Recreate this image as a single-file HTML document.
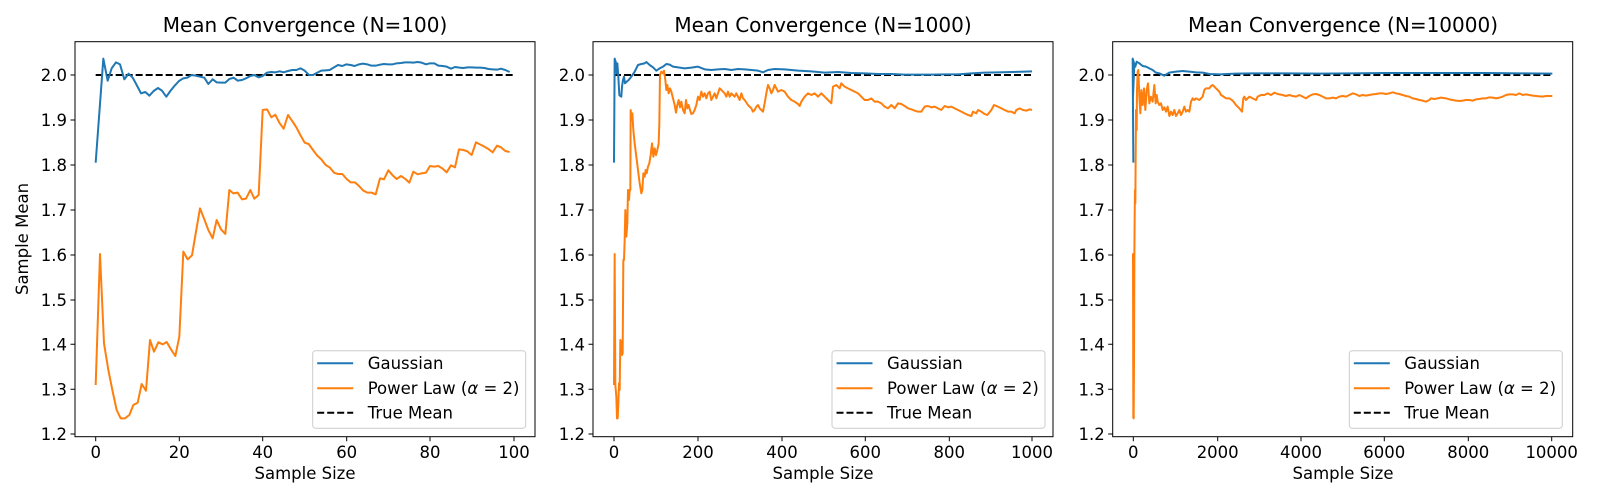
<!DOCTYPE html>
<html><head><meta charset="utf-8"><style>
html,body{margin:0;padding:0;background:#fff}
svg{display:block;font-family:"DejaVu Sans","Liberation Sans",sans-serif}
.l{fill:none;stroke-width:2;vector-effect:non-scaling-stroke;stroke-linejoin:round}
.b{stroke:#1f77b4}.o{stroke:#ff7f0e}
.d{stroke:#000;stroke-dasharray:7,3}
.fr{fill:none;stroke:#000;stroke-width:1}
.tk{stroke:#000;stroke-width:1}
text{font-size:16.5px;fill:#000}
.t{font-size:20px}
</style></head><body>
<svg width="1600" height="500" viewBox="0 0 1600 500">
<defs>
<g id="yt">
<path class="tk" d="M0,75h-4.5M0,120h-4.5M0,165h-4.5M0,210h-4.5M0,255h-4.5M0,300h-4.5M0,344.3h-4.5M0,389.3h-4.5M0,434h-4.5"/>
<g text-anchor="end">
<text x="-8" y="81">2.0</text><text x="-8" y="126">1.9</text><text x="-8" y="171">1.8</text><text x="-8" y="216">1.7</text><text x="-8" y="261">1.6</text><text x="-8" y="306">1.5</text><text x="-8" y="350.3">1.4</text><text x="-8" y="395.3">1.3</text><text x="-8" y="440">1.2</text>
</g></g>
<g id="lg">
<rect x="0" y="0" width="213" height="77.6" rx="3" fill="#fff" fill-opacity="0.8" stroke="#ccc"/>
<path d="M4.5,12.6h36" stroke="#1f77b4" stroke-width="2"/>
<path d="M4.5,37.6h36" stroke="#ff7f0e" stroke-width="2"/>
<path d="M4.5,62h36" stroke="#000" stroke-width="2" stroke-dasharray="7,3"/>
<text x="55" y="18.5">Gaussian</text>
<text x="55" y="43.5">Power Law (<tspan font-style="italic">α</tspan> = 2)</text>
<text x="55" y="68">True Mean</text>
</g>
</defs>

<!-- Panel 1 -->
<text class="t" x="305" y="32" text-anchor="middle">Mean Convergence (N=100)</text>
<g transform="translate(70,30) scale(0.33333)">
<polyline class="l d" points="77,135 1330,135"/>
<polyline class="l b" points="77,398 100,86 113,152 125,115 138,97 150,103 163,148 176,131 188,143 200,165 213,190 226,186 238,197 251,183 264,174 276,182 289,200 301,183 314,167 327,153 340,145 352,143 365,135 377,137 390,140 403,143 415,162 428,148 440,157 453,158 466,158 478,147 491,143 503,152 516,150 528,145 541,138 553,135 566,142 578,138 591,128 604,126 616,127 629,124 641,127 654,123 667,120 679,120 692,115 704,122 717,135 729,135 742,128 754,122 767,121 779,120 792,112 804,105 817,108 829,103 842,105 854,108 867,103 879,101 892,103 904,107 917,107 930,104 942,102 955,103 968,103 980,100 993,99 1005,97 1018,97 1030,98 1043,96 1055,98 1068,103 1080,100 1093,100 1105,107 1118,108 1130,110 1143,116 1155,111 1168,113 1180,114 1193,112 1206,112 1218,113 1231,113 1243,114 1256,117 1268,118 1281,119 1293,116 1306,120 1319,126"/>
<polyline class="l o" points="77,1065 90,672 102,940 115,1020 127,1080 140,1140 152,1165 165,1165 178,1155 190,1125 203,1118 215,1062 228,1082 240,930 252,965 265,937 278,943 290,936 303,958 316,978 328,920 340,665 353,688 366,676 378,605 390,535 403,568 415,600 428,625 440,570 453,598 466,612 478,480 490,490 503,488 516,508 528,506 541,480 553,506 566,495 578,240 591,238 604,262 616,254 628,278 641,296 654,255 666,272 679,292 691,315 704,338 716,342 729,360 741,376 754,388 767,405 779,412 792,428 804,432 817,432 830,447 842,457 855,457 867,468 880,482 892,488 905,488 917,493 930,445 942,448 955,421 968,436 980,447 993,438 1005,446 1018,458 1030,425 1043,433 1055,430 1068,428 1080,408 1093,410 1105,408 1118,416 1130,427 1143,406 1155,412 1167,358 1180,360 1192,364 1205,375 1218,337 1230,343 1243,350 1255,357 1268,367 1281,347 1293,352 1306,363 1319,366"/>
</g>
<rect class="fr" x="75" y="41.7" width="460" height="395"/>
<use href="#yt" x="75"/>
<path class="tk" d="M95.7,436.7v4.5M179.3,436.7v4.5M262.7,436.7v4.5M346.7,436.7v4.5M430,436.7v4.5M514,436.7v4.5"/>
<g text-anchor="middle"><text x="95.7" y="458">0</text><text x="179.3" y="458">20</text><text x="262.7" y="458">40</text><text x="346.7" y="458">60</text><text x="430" y="458">80</text><text x="514" y="458">100</text>
<text x="305" y="479">Sample Size</text></g>
<text x="0" y="0" text-anchor="middle" transform="translate(28,239) rotate(-90)">Sample Mean</text>
<use href="#lg" x="312.7" y="350.7"/>

<!-- Panel 2 -->
<text class="t" x="823" y="32" text-anchor="middle">Mean Convergence (N=1000)</text>
<g transform="translate(578,30) scale(0.33333)">
<polyline class="l d" points="108,135 1362,135"/>
<polyline class="l b" points="108,398 110,86 113,95 116,130 118,100 121,140 124,195 127,198 130,200 132,170 135,150 138,140 141,160 146,155 152,150 160,140 170,125 180,105 190,102 200,100 205,96 215,105 225,112 235,122 245,115 255,110 265,102 275,104 285,110 300,112 320,115 340,113 360,110 380,118 400,120 420,118 440,117 460,120 480,117 500,118 520,120 540,122 555,127 570,120 590,117 620,118 660,122 700,124 740,128 780,126 820,129 860,130 900,132 940,132 980,134 1020,134 1060,134 1100,133 1140,133 1180,130 1220,128 1260,127 1300,126 1340,125 1362,124"/>
<polyline class="l o" points="108,1065 110,672 112,1065 115,1100 117,1165 119,1165 121,1120 123,1060 125,1080 127,930 130,935 132,975 134,970 136,690 138,690 140,630 142,540 145,620 148,580 150,480 153,510 155,480 157,480 158,240 161,270 163,250 166,300 170,340 175,380 180,420 185,460 190,490 193,480 196,430 200,440 203,420 206,430 210,410 214,400 218,375 222,340 226,380 230,355 234,375 238,360 242,340 244,280 246,135 250,125 255,130 258,122 262,150 265,180 268,165 272,190 276,175 280,185 285,205 290,225 294,248 298,225 302,210 306,232 310,215 315,240 320,250 324,210 328,235 332,225 336,240 340,252 345,250 350,240 355,225 360,200 365,210 370,185 375,200 380,190 385,205 390,190 395,185 400,210 405,200 410,190 415,205 420,190 425,175 430,180 435,185 440,190 445,200 450,185 455,200 460,190 465,195 470,200 475,190 480,200 485,210 490,190 495,205 500,210 510,225 520,235 525,245 530,240 535,230 540,225 545,235 550,240 555,245 560,220 565,190 570,165 575,175 580,190 585,180 590,165 595,175 600,185 610,180 620,185 630,200 640,210 650,215 660,222 665,228 670,215 680,200 690,190 700,195 710,190 720,200 730,190 740,200 750,210 760,220 765,170 775,165 785,175 790,160 800,170 810,175 820,180 830,185 840,190 850,200 860,210 870,210 880,205 890,215 900,215 910,220 920,230 930,235 940,225 950,235 960,220 970,222 980,228 990,235 1000,238 1010,242 1020,245 1030,245 1040,230 1050,228 1060,232 1070,230 1080,235 1090,240 1100,228 1110,232 1120,230 1130,235 1140,240 1150,245 1160,250 1170,255 1180,258 1185,245 1195,250 1200,240 1210,245 1220,252 1228,255 1240,240 1248,225 1260,230 1270,235 1280,240 1290,245 1300,245 1310,250 1315,240 1325,235 1335,240 1345,242 1355,238 1362,240"/>
</g>
<rect class="fr" x="593" y="41.7" width="460" height="395"/>
<use href="#yt" x="593"/>
<path class="tk" d="M614,436.7v4.5M698,436.7v4.5M782,436.7v4.5M865.3,436.7v4.5M949.3,436.7v4.5M1032,436.7v4.5"/>
<g text-anchor="middle"><text x="614" y="458">0</text><text x="698" y="458">200</text><text x="782" y="458">400</text><text x="865.3" y="458">600</text><text x="949.3" y="458">800</text><text x="1032" y="458">1000</text>
<text x="823" y="479">Sample Size</text></g>
<use href="#lg" x="832" y="350.7"/>

<!-- Panel 3 -->
<text class="t" x="1343" y="32" text-anchor="middle">Mean Convergence (N=10000)</text>
<g transform="translate(1086,30) scale(0.33333)">
<polyline class="l d" points="142,135 1399,135"/>
<polyline class="l b" points="142,398 140,86 143,95 141,200 145,100 148,110 152,95 160,100 170,108 180,110 190,115 200,120 210,128 220,130 235,137 250,128 270,125 290,123 310,125 330,127 350,128 370,132 400,133 450,131 500,130 600,130 700,131 800,130 900,129 1000,129 1100,129 1200,129 1300,130 1399,131"/>
<polyline class="l o" points="142,1165 141,672 143,1165 144,1000 145,700 146,560 147,480 148,520 150,240 152,300 153,180 155,125 157,120 160,200 163,250 166,180 170,225 174,175 178,240 182,180 186,160 190,220 195,200 200,215 205,165 209,220 212,195 215,215 220,225 225,220 230,240 235,232 240,245 245,230 250,258 255,245 260,255 265,240 270,258 275,250 280,240 285,255 290,245 295,230 300,245 305,240 310,245 315,215 320,205 325,210 330,205 340,210 350,200 355,180 360,175 370,175 375,168 380,165 385,170 390,175 395,180 400,185 405,195 410,198 420,205 430,205 440,212 450,225 460,235 468,245 472,205 475,200 480,210 490,200 500,205 510,210 515,200 525,195 535,195 545,190 555,195 565,188 575,192 590,195 600,198 610,195 620,198 630,200 640,195 650,200 660,205 670,198 680,193 690,192 700,195 710,200 720,205 730,205 740,203 750,205 760,200 770,198 780,200 790,195 800,190 810,193 820,198 830,195 840,197 850,195 860,193 870,192 880,190 890,190 900,192 910,190 920,187 930,190 940,192 950,195 960,198 970,200 980,205 990,207 1000,210 1010,212 1020,215 1030,210 1035,205 1045,207 1055,205 1065,203 1080,205 1090,208 1100,210 1110,212 1120,213 1130,212 1140,210 1150,210 1160,212 1170,208 1180,207 1190,205 1200,205 1210,202 1220,203 1230,205 1240,203 1250,200 1260,195 1270,193 1280,193 1290,195 1300,190 1310,195 1320,193 1330,195 1340,197 1350,198 1360,199 1370,200 1380,198 1399,198"/>
</g>
<rect class="fr" x="1112.7" y="41.7" width="460" height="395"/>
<use href="#yt" x="1112.7"/>
<path class="tk" d="M1133.3,436.7v4.5M1217.7,436.7v4.5M1301,436.7v4.5M1384.3,436.7v4.5M1468.3,436.7v4.5M1551.7,436.7v4.5"/>
<g text-anchor="middle"><text x="1133.3" y="458">0</text><text x="1217.7" y="458">2000</text><text x="1301" y="458">4000</text><text x="1384.3" y="458">6000</text><text x="1468.3" y="458">8000</text><text x="1551.7" y="458">10000</text>
<text x="1343" y="479">Sample Size</text></g>
<use href="#lg" x="1349.3" y="350.7"/>
</svg>
</body></html>
